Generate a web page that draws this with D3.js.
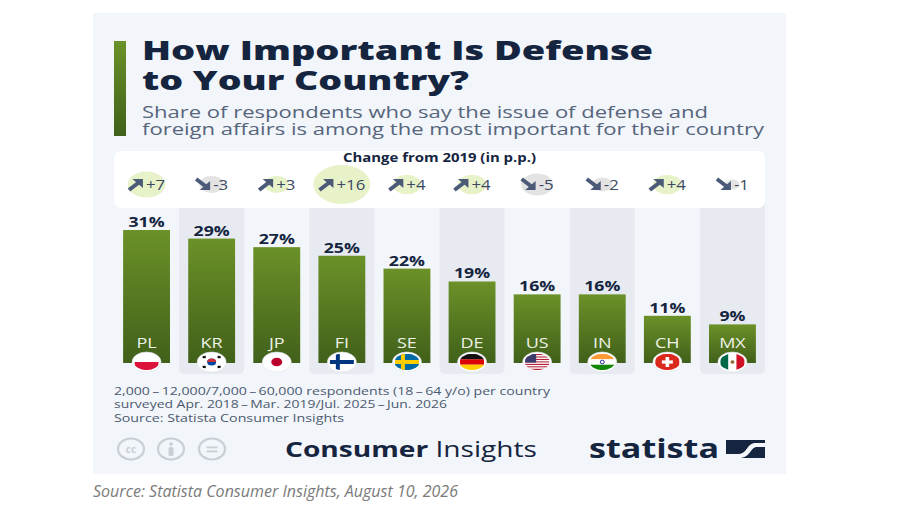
<!DOCTYPE html>
<html>
<head>
<meta charset="utf-8">
<script src="https://cdn.jsdelivr.net/npm/d3@7"></script>
<style>
  body { margin: 0; background: #fff; }
  svg { display: block; font-family: "Open Sans", "DejaVu Sans", sans-serif; }
</style>
</head>
<body>
<script>
// --- Data ---
const countries = ["PL", "KR", "JP", "FI", "SE", "DE", "US", "IN", "CH", "MX"];
const shares = [31, 29, 27, 25, 22, 19, 16, 16, 11, 9];
const changes = [7, -3, 3, 16, 4, 4, -5, -2, 4, -1];

const titleLines = ["How Important Is Defense", "to Your Country?"];
const subtitleLines = [
  "Share of respondents who say the issue of defense and",
  "foreign affairs is among the most important for their country"
];
const noteLines = [
  "2,000\u2009\u2013\u200912,000/7,000\u2009\u2013\u200960,000 respondents (18\u2009\u2013\u200964 y/o) per country",
  "surveyed Apr. 2018\u2009\u2013\u2009Mar. 2019/Jul. 2025\u2009\u2013\u2009Jun. 2026",
  "Source: Statista Consumer Insights"
];

const data = countries.map((c, i) => ({ country: c, share: shares[i], change: changes[i] }));

const width = 900, height = 510;
const navy = "#15253f";

// the original graphic is a little stretched sideways
const stretch = (sel, k) => sel.each(function () {
  const w = this.getComputedTextLength();
  d3.select(this).attr("textLength", w * k).attr("lengthAdjust", "spacingAndGlyphs");
});

const svg = d3.select("body").append("svg")
  .attr("width", width)
  .attr("height", height);

const defs = svg.append("defs");

// green gradient used by bars and the title accent
const grad = defs.append("linearGradient")
  .attr("id", "barGrad")
  .attr("x1", "0%").attr("x2", "0%")
  .attr("y1", "0%").attr("y2", "100%");
grad.append("stop").attr("offset", "0%").attr("stop-color", "#6b9128");
grad.append("stop").attr("offset", "100%").attr("stop-color", "#41601a");

// --- Panel ---
svg.append("rect")
  .attr("x", 0).attr("y", 0)
  .attr("width", width).attr("height", height)
  .attr("fill", "#fff");

svg.append("rect")
  .attr("x", 93).attr("y", 13)
  .attr("width", 693).attr("height", 461)
  .attr("fill", "#f2f5f9");

// --- Title ---
svg.append("rect")
  .attr("x", 114).attr("y", 41)
  .attr("width", 12).attr("height", 95)
  .attr("fill", "url(#barGrad)");

const titleLen = [511, 327];
svg.selectAll(".title")
  .data(titleLines)
  .enter()
  .append("text")
  .attr("class", "title")
  .attr("x", 142)
  .attr("y", (d, i) => 60 + i * 30)
  .attr("textLength", (d, i) => titleLen[i])
  .attr("lengthAdjust", "spacingAndGlyphs")
  .style("font-size", "27px")
  .style("font-weight", "800")
  .attr("fill", navy)
  .text(d => d);

const subLen = [566, 622];
svg.selectAll(".subtitle")
  .data(subtitleLines)
  .enter()
  .append("text")
  .attr("class", "subtitle")
  .attr("x", 142)
  .attr("y", (d, i) => 118 + i * 17)
  .attr("textLength", (d, i) => subLen[i])
  .attr("lengthAdjust", "spacingAndGlyphs")
  .style("font-size", "16px")
  .attr("fill", "#56657c")
  .text(d => d);

// --- Scales ---
const x = d3.scaleBand()
  .domain(countries)
  .range([114, 765])
  .paddingInner(0.28)
  .paddingOuter(0.14);

const y = d3.scaleLinear()
  .domain([0, 31])
  .range([363, 230]);

const cx = d => x(d) + x.bandwidth() / 2;

// --- Alternating column shading ---
svg.selectAll(".stripe")
  .data(data.filter((d, i) => i % 2 === 1))
  .enter()
  .append("rect")
  .attr("class", "stripe")
  .attr("x", d => cx(d.country) - x.step() / 2)
  .attr("y", 195)
  .attr("width", x.step())
  .attr("height", 374 - 195)
  .attr("rx", 5)
  .attr("fill", "#e7ebf1");

// --- Change box ---
svg.append("rect")
  .attr("x", 114).attr("y", 151)
  .attr("width", 651).attr("height", 57)
  .attr("rx", 7)
  .attr("fill", "#fff");

svg.append("text")
  .attr("x", 439.5)
  .attr("y", 162)
  .attr("text-anchor", "middle")
  .attr("textLength", 193)
  .attr("lengthAdjust", "spacingAndGlyphs")
  .style("font-size", "11.5px")
  .style("font-weight", "700")
  .attr("fill", navy)
  .text("Change from 2019 (in p.p.)");

const arrowW = 15, arrowGap = 3;
const changeG = svg.selectAll(".change")
  .data(data)
  .enter()
  .append("g")
  .attr("class", "change")
  .attr("transform", d => `translate(${cx(d.country)},184.5)`);

changeG.append("ellipse")
  .attr("rx", d => 1.45 * 4.9 * Math.sqrt(Math.abs(d.change)))
  .attr("ry", d => 4.9 * Math.sqrt(Math.abs(d.change)))
  .attr("fill", d => d.change > 0 ? "#e8f2c9" : "#e3e3e3");

const arrow = changeG.append("g").attr("class", "arrow");
arrow.append("path")
  .attr("d", d => d.change > 0 ? "M4.5,0 L15,0 L15,9 Z" : "M4.5,11 L15,11 L15,2 Z")
  .attr("fill", "#4b5a77");
arrow.append("path")
  .attr("d", d => d.change > 0 ? "M1,11 L11.5,3" : "M1,0 L11.5,8")
  .attr("stroke", "#4b5a77")
  .attr("stroke-width", 4)
  .attr("fill", "none");

changeG.append("text")
  .attr("y", 5)
  .style("font-size", "14px")
  .attr("fill", "#3b4a62")
  .text(d => (d.change > 0 ? "+" : "-") + Math.abs(d.change))
  .call(stretch, 1.2);

changeG.each(function () {
  const g = d3.select(this);
  const tw = +g.select("text").attr("textLength");
  const x0 = -(arrowW + arrowGap + tw) / 2;
  g.select(".arrow").attr("transform", `translate(${x0},-5.5)`);
  g.select("text").attr("x", x0 + arrowW + arrowGap);
});

// --- Bars ---
svg.selectAll(".bar")
  .data(data)
  .enter()
  .append("rect")
  .attr("class", "bar")
  .attr("x", d => x(d.country))
  .attr("y", d => y(d.share))
  .attr("width", x.bandwidth())
  .attr("height", d => y(0) - y(d.share))
  .attr("fill", "url(#barGrad)");

svg.selectAll(".bar-label")
  .data(data)
  .enter()
  .append("text")
  .attr("class", "bar-label")
  .attr("x", d => cx(d.country))
  .attr("y", d => y(d.share) - 3)
  .attr("text-anchor", "middle")
  .style("font-size", "14.5px")
  .style("font-weight", "700")
  .attr("fill", navy)
  .text(d => d.share + "%")
  .call(stretch, 1.22);

svg.selectAll(".country")
  .data(data)
  .enter()
  .append("text")
  .attr("class", "country")
  .attr("x", d => cx(d.country))
  .attr("y", 348)
  .attr("text-anchor", "middle")
  .style("font-size", "15px")
  .attr("fill", "#eef2e6")
  .text(d => d.country)
  .call(stretch, 1.2);

// --- Flags ---
function drawFlag(g, code) {
  const r = (x0, y0, w, h, c) => g.append("rect")
    .attr("x", x0).attr("y", y0).attr("width", w).attr("height", h).attr("fill", c);
  if (code === "PL") {
    r(-12, -8, 24, 8, "#ffffff"); r(-12, 0, 24, 8, "#dc143c");
  } else if (code === "KR") {
    r(-12, -8, 24, 16, "#ffffff");
    g.append("ellipse").attr("rx", 4.5).attr("ry", 3.6).attr("fill", "#0047a0");
    g.append("path").attr("d", "M-4.5,0 A4.5,3.6 0 0 1 4.5,0 Z").attr("fill", "#cd2e3a");
    [[-7.5, -5], [7.5, -5], [-7.5, 5], [7.5, 5]].forEach(p => {
      g.append("rect").attr("x", p[0] - 1.6).attr("y", p[1] - 1.2)
        .attr("width", 3.2).attr("height", 2.4).attr("fill", "#111");
    });
  } else if (code === "JP") {
    r(-12, -8, 24, 16, "#ffffff");
    g.append("ellipse").attr("rx", 5.5).attr("ry", 4.3).attr("fill", "#bc002d");
  } else if (code === "FI") {
    r(-12, -8, 24, 16, "#ffffff");
    r(-6, -8, 4, 16, "#003580"); r(-12, -2, 24, 4, "#003580");
  } else if (code === "SE") {
    r(-12, -8, 24, 16, "#006aa7");
    r(-6, -8, 4, 16, "#fecc00"); r(-12, -2, 24, 4, "#fecc00");
  } else if (code === "DE") {
    r(-12, -8, 24, 5.4, "#111111"); r(-12, -2.7, 24, 5.4, "#dd0000"); r(-12, 2.7, 24, 5.4, "#ffce00");
  } else if (code === "US") {
    d3.range(13).forEach(k => r(-12, -8 + k * 16 / 13, 24, 16 / 13 + 0.1, k % 2 ? "#ffffff" : "#b22234"));
    r(-12, -8, 11, 8.6, "#3c3b6e");
  } else if (code === "IN") {
    r(-12, -8, 24, 5.4, "#ff9933"); r(-12, -2.7, 24, 5.4, "#ffffff"); r(-12, 2.7, 24, 5.4, "#138808");
    g.append("ellipse").attr("rx", 2).attr("ry", 1.8).attr("fill", "none").attr("stroke", "#000080").attr("stroke-width", 0.8);
  } else if (code === "CH") {
    r(-12, -8, 24, 16, "#da291c");
    r(-1.8, -5, 3.6, 10, "#ffffff"); r(-5.5, -1.6, 11, 3.2, "#ffffff");
  } else if (code === "MX") {
    r(-12, -8, 8, 16, "#006847"); r(-4, -8, 8, 16, "#ffffff"); r(4, -8, 8, 16, "#ce1126");
    g.append("ellipse").attr("rx", 2).attr("ry", 1.8).attr("fill", "#8c6a2f");
  }
}

const flagG = svg.selectAll(".flag")
  .data(data)
  .enter()
  .append("g")
  .attr("class", "flag")
  .attr("transform", d => `translate(${cx(d.country)},362)`);

flagG.append("ellipse")
  .attr("rx", 14.5).attr("ry", 10)
  .attr("fill", "#fff")
  .attr("stroke", "#dfe3e9")
  .attr("stroke-width", 0.6);

flagG.each(function (d) {
  defs.append("clipPath")
    .attr("id", "clip-" + d.country)
    .append("ellipse")
    .attr("rx", 12.5).attr("ry", 8.3);
  const inner = d3.select(this).append("g").attr("clip-path", `url(#clip-${d.country})`);
  drawFlag(inner, d.country);
});

// --- Notes ---
const noteLen = [436, 333, 230];
svg.selectAll(".note")
  .data(noteLines)
  .enter()
  .append("text")
  .attr("class", "note")
  .attr("x", 114)
  .attr("y", (d, i) => [395, 407.5, 422][i])
  .attr("textLength", (d, i) => noteLen[i])
  .attr("lengthAdjust", "spacingAndGlyphs")
  .style("font-size", "11px")
  .attr("fill", "#4c5a70")
  .text(d => d);

// --- Footer: licence icons ---
const iconX = [131, 171, 212];
const icons = svg.selectAll(".cc")
  .data(iconX)
  .enter()
  .append("g")
  .attr("class", "cc")
  .attr("transform", d => `translate(${d},449)`);
icons.append("ellipse")
  .attr("rx", 13).attr("ry", 10.5)
  .attr("fill", "none")
  .attr("stroke", "#c9cfd7")
  .attr("stroke-width", 2.2);
icons.filter((d, i) => i === 0).append("text")
  .attr("y", 3.5).attr("text-anchor", "middle")
  .style("font-size", "10px").style("font-weight", "700")
  .attr("fill", "#c9cfd7").text("cc");
icons.filter((d, i) => i === 1).append("ellipse")
  .attr("cy", -5).attr("rx", 2).attr("ry", 1.8).attr("fill", "#c9cfd7");
icons.filter((d, i) => i === 1).append("rect")
  .attr("x", -2.5).attr("y", -2).attr("width", 5).attr("height", 9).attr("rx", 1.5).attr("fill", "#c9cfd7");
icons.filter((d, i) => i === 2).selectAll("rect")
  .data([-2.5, 1.5])
  .enter()
  .append("rect")
  .attr("x", -5.5).attr("y", v => v).attr("width", 11).attr("height", 1.8).attr("fill", "#c9cfd7");

// --- Footer: brand ---
const ci = svg.append("text")
  .attr("x", 285)
  .attr("y", 457)
  .attr("textLength", 252)
  .attr("lengthAdjust", "spacingAndGlyphs")
  .style("font-size", "22px")
  .attr("fill", navy);
ci.append("tspan").style("font-weight", "700").text("Consumer");
ci.append("tspan").style("font-weight", "400").text(" Insights");

svg.append("text")
  .attr("x", 589)
  .attr("y", 457.5)
  .attr("textLength", 130)
  .attr("lengthAdjust", "spacingAndGlyphs")
  .style("font-size", "27px")
  .style("font-weight", "700")
  .attr("fill", navy)
  .text("statista");

svg.append("rect")
  .attr("x", 726).attr("y", 440)
  .attr("width", 39).attr("height", 18)
  .attr("fill", navy);
svg.append("path")
  .attr("d", "M726,454 L738,454 C748,454 746,443 756,443 L765,443 L765,447 L757,447 C750,447 751,458 739,458 L726,458 Z")
  .attr("fill", "#f2f5f9");

// --- Source line under the panel ---
svg.append("text")
  .attr("x", 93)
  .attr("y", 497)
  .attr("textLength", 365)
  .attr("lengthAdjust", "spacingAndGlyphs")
  .style("font-family", "'Liberation Sans Narrow', 'Open Sans', sans-serif")
  .style("font-style", "italic")
  .style("font-size", "16px")
  .attr("fill", "#7a7a7a")
  .text("Source: Statista Consumer Insights, August 10, 2026");
</script>
</body>
</html>
